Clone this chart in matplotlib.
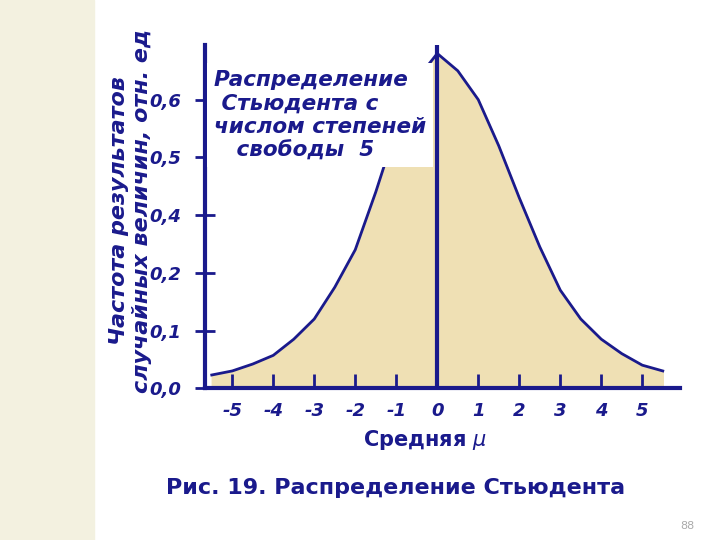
import matplotlib
matplotlib.use("Agg")
import matplotlib.pyplot as plt
from matplotlib.patches import Rectangle

t_vals = [-5.5,-5,-4.5,-4,-3.5,-3,-2.5,-2,-1.5,-1,-0.5,0,0.5,1,1.5,2,2.5,3,3.5,4,4.5,5,5.5]
freq   = [0.23,0.3,0.42,0.57,0.85,1.2,1.75,2.4,3.4,4.5,5.35,5.8,5.5,5.0,4.2,3.3,2.45,1.7,1.2,0.85,0.6,0.4,0.3]
x_ticks = [-5,-4,-3,-2,-1,0,1,2,3,4,5]
y_tick_labels = ["0,0","0,1","0,2","0,4","0,5","0,6"]

blue = "#1a1a8c"
fig = plt.figure(figsize=(7.2,5.4), dpi=100)
fig.patches.append(Rectangle((0,0),0.13,1,transform=fig.transFigure,color="#f3f1e0",zorder=0))
ax = fig.add_axes([0.285,0.281,0.66,0.636])
ax.fill_between(t_vals, freq, color="#efe0b4", zorder=1)
ax.plot(t_vals, freq, color=blue, lw=2, zorder=2)
ax.axvline(0, color=blue, lw=3, zorder=3)
ax.set_xlim(-5.66,5.93); ax.set_ylim(0,5.95)
for s in ["top","right"]: ax.spines[s].set_visible(False)
for s in ["left","bottom"]:
    ax.spines[s].set_linewidth(3); ax.spines[s].set_color(blue)
ax.set_xticks(x_ticks); ax.set_xticklabels([str(v) for v in x_ticks])
ax.set_yticks(range(6)); ax.set_yticklabels(y_tick_labels)
ax.tick_params(axis="x", direction="in", length=10, width=2, color=blue, pad=10)
ax.tick_params(axis="y", direction="inout", length=14, width=2, color=blue, pad=10)
for lab in ax.get_xticklabels()+ax.get_yticklabels():
    lab.set_fontsize(13); lab.set_fontweight("bold"); lab.set_fontstyle("italic"); lab.set_color(blue)
fig.text(0.59,0.175,"Средняя $\\mu$", fontsize=15, fontweight="bold", color=blue, ha="center")
fig.text(0.165,0.61,"Частота результатов", rotation=90, fontsize=16, fontweight="bold", fontstyle="italic", color=blue, ha="center", va="center")
fig.text(0.197,0.61,"случайных величин, отн. ед", rotation=90, fontsize=16, fontweight="bold", fontstyle="italic", color=blue, ha="center", va="center")
ax.text(-5.45,3.95,"Распределение\n Стьюдента с\nчислом степеней\n   свободы  5", fontsize=15.5, fontweight="bold", fontstyle="italic", color=blue, ha="left", va="bottom", linespacing=1.2,
        bbox=dict(facecolor="white", edgecolor="none", pad=5), zorder=4)
fig.text(0.55,0.085,"Рис. 19. Распределение Стьюдента", fontsize=16, fontweight="bold", color=blue, ha="center")
fig.text(0.965,0.02,"88", fontsize=8, color="#aaaaaa", ha="right")
fig.savefig("out.png", dpi=100)
